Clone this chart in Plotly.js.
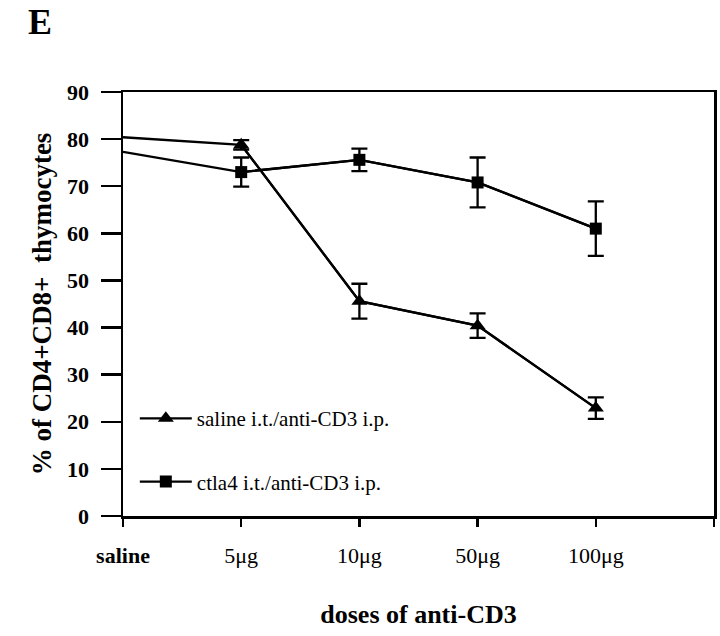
<!DOCTYPE html>
<html>
<head>
<meta charset="utf-8">
<script src="https://cdn.plot.ly/plotly-3.0.1.min.js"></script>
<style>
  body { margin: 0; background: #fff; }
  #graph { width: 720px; height: 636px; }
</style>
</head>
<body>
<div id="graph"></div>
<script>
// x positions of the doses on the axis (saline sits on the y axis)
var dosePos = [0, 1, 2, 3, 4];
var doseLabels = ['<b>saline</b>', '5\u03bcg', '10\u03bcg', '50\u03bcg', '100\u03bcg'];

// y axis ticks
var yTicks = [0, 10, 20, 30, 40, 50, 60, 70, 80, 90];

// saline i.t./anti-CD3 i.p. (triangles)
var salineY = [80.4, 78.8, 45.6, 40.4, 22.9];
var salineErr = [1.0, 3.7, 2.6, 2.3];

// ctla4 i.t./anti-CD3 i.p. (squares)
var ctlaY = [77.3, 73.0, 75.6, 70.8, 61.0];
var ctlaErr = [3.1, 2.4, 5.3, 5.8];

var serif = 'Liberation Serif, Times New Roman, serif';

function series(name, y, err, symbol, size)
{
  // line that runs back to the saline value on the axis, no marker there
  var lead = {
    x: dosePos,
    y: y,
    type: 'scatter',
    mode: 'lines',
    showlegend: false,
    hoverinfo: 'skip',
    line: { color: 'black', width: 2.3 }
  };
  var pts = {
    x: dosePos.slice(1),
    y: y.slice(1),
    type: 'scatter',
    mode: 'lines+markers',
    name: name,
    legendgroup: name,
    line: { color: 'black', width: 2.3 },
    marker: { symbol: symbol, size: size, color: 'black' },
    error_y: { type: 'data', array: err, color: 'black', thickness: 2.3, width: 8 }
  };
  return [lead, pts];
}

var data = [].concat(
  series('saline i.t./anti-CD3 i.p.', salineY, salineErr, 'triangle-up', 14),
  series('ctla4 i.t./anti-CD3 i.p.', ctlaY, ctlaErr, 'square', 12)
);

var layout = {
  width: 720,
  height: 636,
  margin: { l: 123, r: 6, t: 92, b: 120 },
  paper_bgcolor: 'white',
  plot_bgcolor: 'white',
  showlegend: true,
  legend: {
    x: 0.02, y: 0.278,
    xanchor: 'left', yanchor: 'top',
    bgcolor: 'rgba(0,0,0,0)',
    font: { family: serif, size: 21, color: 'black' },
    traceorder: 'grouped',
    tracegroupgap: 33,
    itemwidth: 52
  },
  xaxis: {
    range: [0, 5],
    tickvals: [0, 1, 2, 3, 4, 5],
    ticktext: doseLabels.concat(['']),
    ticks: 'outside',
    ticklen: 8,
    tickwidth: 2.5,
    tickcolor: 'black',
    showline: true,
    linewidth: 2.5,
    linecolor: 'black',
    mirror: true,
    showgrid: false,
    zeroline: false,
    ticklabelstandoff: 10,
    tickfont: { family: serif, size: 22, color: 'black' },
    title: {
      text: '<b>doses of anti-CD3</b>',
      font: { family: serif, size: 26, color: 'black' },
      standoff: 38
    }
  },
  yaxis: {
    range: [0, 90],
    tickvals: yTicks,
    ticktext: yTicks.map(function(v) { return '<b>' + v + '</b>'; }),
    ticks: 'outside',
    ticklen: 20,
    tickwidth: 2.5,
    tickcolor: 'black',
    showline: true,
    linewidth: 2.5,
    linecolor: 'black',
    mirror: true,
    showgrid: false,
    zeroline: false,
    ticklabelstandoff: 7,
    tickfont: { family: serif, size: 22, color: 'black' },
    title: {
      text: '<b>% of CD4+CD8+  thymocytes</b>',
      font: { family: serif, size: 27, color: 'black' },
      standoff: 8
    }
  },
  annotations: [{
    text: '<b>E</b>',
    xref: 'paper', yref: 'paper',
    x: -0.14, y: 1.165,
    xanchor: 'center', yanchor: 'middle',
    showarrow: false,
    font: { family: serif, size: 36, color: 'black' }
  }]
};

Plotly.newPlot('graph', data, layout, { displayModeBar: false, staticPlot: true });
</script>
</body>
</html>
